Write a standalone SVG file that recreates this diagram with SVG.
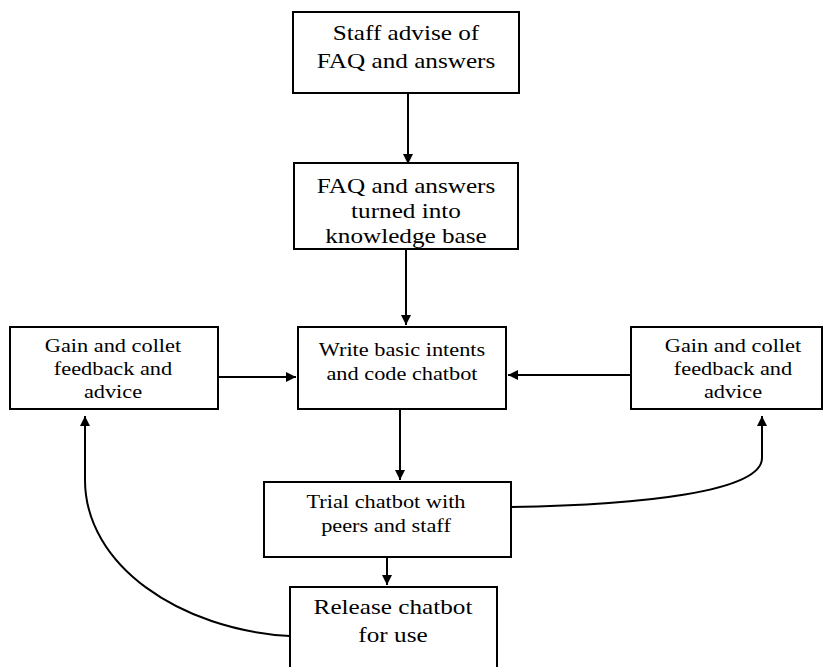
<svg xmlns="http://www.w3.org/2000/svg" width="829" height="667" viewBox="0 0 829 667">
<defs>
<marker id="ah" viewBox="0 0 10 10" refX="10" refY="5" markerWidth="5" markerHeight="5" orient="auto" markerUnits="strokeWidth">
<path d="M0,0 L10,5 L0,10 z" fill="#000"/>
</marker>
<style>
rect{fill:#fff;stroke:#000;stroke-width:2}
text{font-family:'Liberation Serif','DejaVu Serif',serif;fill:#000;text-anchor:middle}
.big{font-size:21px}
.sm{font-size:18.6px}
.mid{font-size:21px}
#connectors path{fill:none;stroke:#000;stroke-width:2;marker-end:url(#ah)}
</style>
</defs>
<rect x="0" y="0" width="829" height="667" style="stroke:none"/>
<g id="connectors">
<path d="M408 93 L408 164"/>
<path d="M406 249 L406 325"/>
<path d="M218 377 L296 377"/>
<path d="M631 375 L508 375"/>
<path d="M400 409 L400 480"/>
<path d="M387 557 L387 585"/>
<path d="M511 507 C640 505 762 492 762 458 L762 416"/>
<path d="M290 636 C180 630 85 565 85 480 L85 416"/>
</g>
<g id="n1" font-family="Liberation Serif, serif"><rect x="293" y="12" width="226" height="81"/>
<text class="big" transform="translate(406,40) scale(1.2,1)">Staff advise of</text>
<text class="big" transform="translate(406,68) scale(1.2,1)">FAQ and answers</text></g>
<g id="n2" font-family="Liberation Serif, serif"><rect x="294" y="163" width="224" height="86"/>
<text class="big" transform="translate(406,193) scale(1.2,1)">FAQ and answers</text>
<text class="big" transform="translate(406,218) scale(1.2,1)">turned into</text>
<text class="big" transform="translate(406,243) scale(1.2,1)">knowledge base</text></g>
<g id="n3" font-family="Liberation Serif, serif"><rect x="298" y="327" width="208" height="82"/>
<text class="sm" transform="translate(402,356) scale(1.2,1)">Write basic intents</text>
<text class="sm" transform="translate(402,380) scale(1.2,1)">and code chatbot</text></g>
<g id="n4" font-family="Liberation Serif, serif"><rect x="10" y="327" width="208" height="82"/>
<text class="sm" transform="translate(113,352) scale(1.2,1)">Gain and collet</text>
<text class="sm" transform="translate(113,375) scale(1.2,1)">feedback and</text>
<text class="sm" transform="translate(113,398) scale(1.2,1)">advice</text></g>
<g id="n5" font-family="Liberation Serif, serif"><rect x="631" y="327" width="191" height="82"/>
<text class="sm" transform="translate(733,352) scale(1.2,1)">Gain and collet</text>
<text class="sm" transform="translate(733,375) scale(1.2,1)">feedback and</text>
<text class="sm" transform="translate(733,398) scale(1.2,1)">advice</text></g>
<g id="n6" font-family="Liberation Serif, serif"><rect x="264" y="482" width="247" height="75"/>
<text class="sm" transform="translate(386,508) scale(1.2,1)">Trial chatbot with</text>
<text class="sm" transform="translate(386,532) scale(1.2,1)">peers and staff</text></g>
<g id="n7" font-family="Liberation Serif, serif"><rect x="290" y="587" width="207" height="82"/>
<text class="mid" transform="translate(393,614) scale(1.2,1)">Release chatbot</text>
<text class="mid" transform="translate(393,642) scale(1.2,1)">for use</text></g>
</svg>
